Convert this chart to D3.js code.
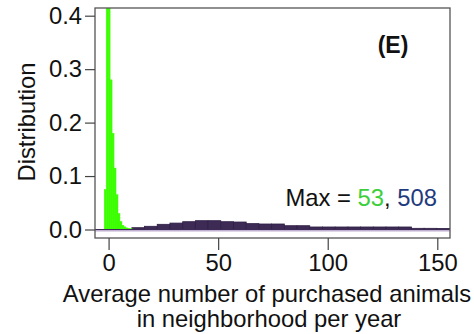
<!DOCTYPE html>
<html><head><meta charset="utf-8">
<script src="https://cdn.jsdelivr.net/npm/d3@7"></script>
<style>
html,body{margin:0;padding:0;background:#fff;}
svg{display:block;font-family:Arial,"Liberation Sans",sans-serif;}
</style></head>
<body>
<svg id="chart" width="474" height="334"></svg>
<script>
// ---- data ----
const xTicks = [0, 50, 100, 150];
const yTicks = [0.0, 0.1, 0.2, 0.3, 0.4];
const yTickLabels = ["0.0", "0.1", "0.2", "0.3", "0.4"];
const greenEdges = [-2, -1.1, -0.2, 0.7, 1.6, 2.5, 3.4, 4.3, 5.2, 6.1, 7.0, 7.9, 8.8, 9.7, 10.6, 11.5];
const greenDensity = [0.075, 0.8, 0.45, 0.28, 0.18, 0.115, 0.065, 0.03, 0.015, 0.008, 0.005, 0.003, 0.002, 0.0015, 0.001];
const darkEdges = [10.6, 16.4, 22.2, 28, 33.8, 39.6, 45.4, 51.2, 57, 62.8, 68.6, 74.4, 80.2, 86, 91.8, 97.6, 103.4, 109.2, 115, 120.8, 126.6, 132.4, 138.2, 144, 149.8, 155.6, 161.4];
const darkDensity = [0.0034, 0.006, 0.0097, 0.012, 0.0146, 0.0165, 0.0165, 0.0146, 0.014, 0.011, 0.0103, 0.0103, 0.0071, 0.0071, 0.0047, 0.0047, 0.0047, 0.0047, 0.0047, 0.0047, 0.0047, 0.0047, 0.0022, 0.0022, 0.002, 0.002];
const maxGreen = 53, maxDark = 508;
const panelLabel = "(E)";
const yTitle = "Distribution";
const xTitle = ["Average number of purchased animals", "in neighborhood per year"];

// ---- layout ----
const FS = 23.8;
const box = {left: 95, right: 450, top: 8, bottom: 238};
const svg = d3.select("#chart");
const x = d3.scaleLinear().domain([-6.2, 155.8]).range([box.left, box.right]);
const y = d3.scaleLinear().domain([-0.0159, 0.4144]).range([box.bottom, box.top]);

svg.append("defs").append("clipPath").attr("id", "clip")
  .append("rect").attr("x", box.left).attr("y", box.top)
  .attr("width", box.right - box.left).attr("height", box.bottom - box.top);

const plot = svg.append("g").attr("clip-path", "url(#clip)");

// baseline band
plot.append("line").attr("x1", box.left).attr("x2", box.right)
  .attr("y1", y(0) + 1.2).attr("y2", y(0) + 1.2)
  .attr("stroke", "#bfb0d2").attr("stroke-width", 1.8);

// dark histogram
const darkBins = darkDensity.map((d, i) => ({x0: darkEdges[i], x1: darkEdges[i + 1], v: d}));
plot.selectAll("rect.dark").data(darkBins).join("rect").attr("class", "dark")
  .attr("x", d => x(d.x0)).attr("width", d => x(d.x1) - x(d.x0))
  .attr("y", d => y(d.v)).attr("height", d => y(0) - y(d.v))
  .attr("fill", "#3d2b56").attr("stroke", "#2e1f44").attr("stroke-width", 0.8);

// green histogram
const greenBins = greenDensity.map((d, i) => ({x0: greenEdges[i], x1: greenEdges[i + 1], v: d}));
plot.selectAll("rect.green").data(greenBins).join("rect").attr("class", "green")
  .attr("x", d => x(d.x0)).attr("width", d => x(d.x1) - x(d.x0))
  .attr("y", d => y(d.v)).attr("height", d => y(0) - y(d.v))
  .attr("fill", "#3cff00").attr("stroke", "#3cff00").attr("stroke-width", 0.4);

// dark baseline line
plot.append("line").attr("x1", box.left).attr("x2", box.right)
  .attr("y1", y(0)).attr("y2", y(0))
  .attr("stroke", "#3d2b56").attr("stroke-width", 1);

// box
svg.append("rect").attr("x", box.left).attr("y", box.top)
  .attr("width", box.right - box.left).attr("height", box.bottom - box.top)
  .attr("fill", "none").attr("stroke", "#555").attr("stroke-width", 1.3);

// y axis
const yAxis = d3.axisLeft(y).tickValues(yTicks).tickSize(10).tickPadding(3)
  .tickFormat((d, i) => yTickLabels[i]);
const gy = svg.append("g").attr("transform", `translate(${box.left},0)`).call(yAxis);
gy.select(".domain").remove();
gy.selectAll("line").attr("stroke", "#444").attr("stroke-width", 1.2);
gy.selectAll("text").attr("font-size", FS).attr("fill", "#111")
  .attr("font-family", "Arial, 'Liberation Sans', sans-serif");

// x axis
const xAxis = d3.axisBottom(x).tickValues(xTicks).tickSize(12).tickPadding(4);
const gx = svg.append("g").attr("transform", `translate(0,${box.bottom})`).call(xAxis);
gx.select(".domain").remove();
gx.selectAll("line").attr("stroke", "#444").attr("stroke-width", 1.2);
gx.selectAll("text").attr("font-size", FS).attr("fill", "#111")
  .attr("font-family", "Arial, 'Liberation Sans', sans-serif");

// titles
svg.append("text").attr("transform", "translate(35,122) rotate(-90)")
  .attr("text-anchor", "middle").attr("font-size", FS).attr("fill", "#111").text(yTitle);
svg.append("text").attr("x", 267).attr("y", 302).attr("text-anchor", "middle")
  .attr("font-size", FS).attr("fill", "#111").text(xTitle[0]);
svg.append("text").attr("x", 269).attr("y", 327).attr("text-anchor", "middle")
  .attr("font-size", FS).attr("fill", "#111").text(xTitle[1]);

// panel label
svg.append("text").attr("x", 393).attr("y", 53).attr("text-anchor", "middle")
  .attr("font-size", 23).attr("font-weight", "bold").attr("fill", "#111").text(panelLabel);

// max annotation
const t = svg.append("text").attr("x", 437).attr("y", 206).attr("text-anchor", "end")
  .attr("font-size", FS).attr("fill", "#111");
t.append("tspan").text("Max = ");
t.append("tspan").attr("fill", "#3ccf3c").text(maxGreen);
t.append("tspan").text(", ");
t.append("tspan").attr("fill", "#1f3b7e").text(maxDark);
</script>
</body></html>
